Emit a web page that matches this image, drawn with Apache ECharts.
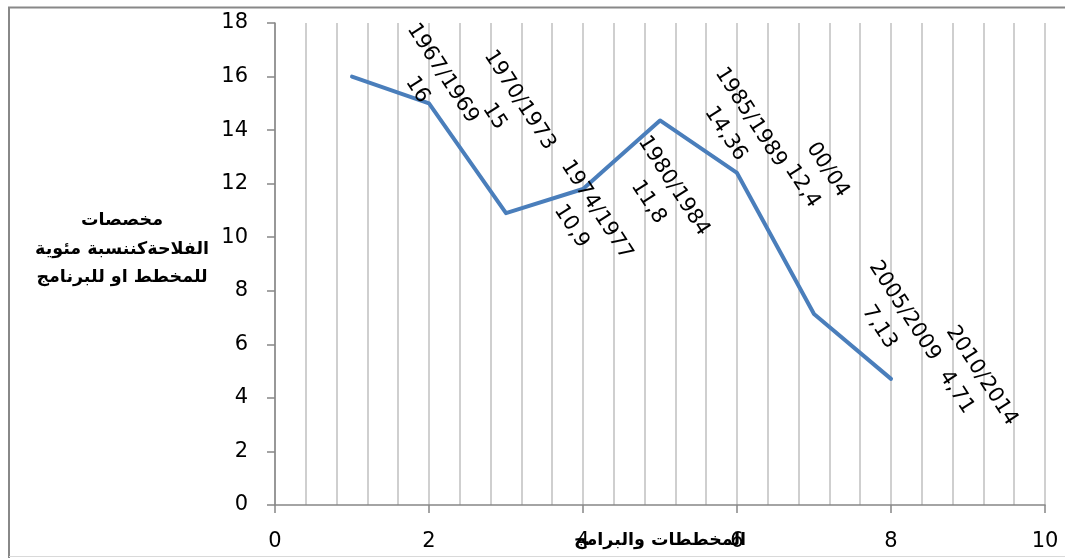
<!DOCTYPE html>
<html>
<head>
<meta charset="utf-8">
<script src="https://cdn.jsdelivr.net/npm/echarts@6/dist/echarts.min.js"></script>
<style>
html,body{margin:0;padding:0;background:#fff;}
#chart{width:1065px;height:558px;}
</style>
</head>
<body>
<div id="chart"></div>
<script>
// Data
const periods = ["1967/1969", "1970/1973", "1974/1977", "1980/1984", "1985/1989", "00/04", "2005/2009", "2010/2014"];
const xValues = [1, 2, 3, 4, 5, 6, 7, 8];
const shares = [16, 15, 10.9, 11.8, 14.36, 12.4, 7.13, 4.71];
const xTicks = [0, 2, 4, 6, 8, 10];
const yTicks = [0, 2, 4, 6, 8, 10, 12, 14, 16, 18];
const xAxisTitle = "المخططات والبرامج";
const yAxisTitle = "مخصصات\nالفلاحةكننسبة مئوية\nللمخطط او للبرنامج";

const seriesData = periods.map((p, i) => ({ name: p, value: [xValues[i], shares[i]] }));

const chart = echarts.init(document.getElementById('chart'), null, { renderer: 'canvas' });
const axisGray = '#868686';
const gridGray = '#c0c0c0';
const tickFont = 'DejaVu Sans';

// label rotation and desired screen-space shift of the label block from its point
const labelAngle = 57;
const shiftX = 78, shiftY = 5;
const rad = labelAngle * Math.PI / 180;
const localOffset = [shiftX * Math.cos(rad) + shiftY * Math.sin(rad), -shiftX * Math.sin(rad) + shiftY * Math.cos(rad)];

chart.setOption({
  animation: false,
  backgroundColor: '#fff',
  grid: { left: 275, right: 20, top: 23, bottom: 53, containLabel: false, outerBoundsMode: 'none' },
  xAxis: {
    type: 'value',
    min: xTicks[0], max: xTicks[xTicks.length - 1], interval: 2,
    axisLine: { show: true, onZero: false, lineStyle: { color: axisGray, width: 1.5 } },
    axisTick: { show: true, length: 8, inside: false, lineStyle: { color: axisGray, width: 1.5 } },
    axisLabel: { fontSize: 21, color: '#000', fontFamily: tickFont, margin: 26 },
    splitLine: { show: true, lineStyle: { color: gridGray, width: 1.5 } },
    minorTick: { show: false, splitNumber: 5 },
    minorSplitLine: { show: true, lineStyle: { color: gridGray, width: 1.5 } },
    name: xAxisTitle,
    nameLocation: 'middle',
    nameGap: 26,
    nameMoveOverlap: false,
    nameTextStyle: { fontSize: 17.5, fontWeight: 'bold', color: '#000', fontFamily: 'DejaVu Sans' }
  },
  yAxis: {
    type: 'value',
    min: yTicks[0], max: yTicks[yTicks.length - 1], interval: 2,
    axisLine: { show: true, onZero: false, lineStyle: { color: axisGray, width: 1.5 } },
    axisTick: { show: true, length: 8, inside: false, lineStyle: { color: axisGray, width: 1.5 } },
    axisLabel: { fontSize: 21, color: '#000', fontFamily: tickFont, margin: 27 },
    splitLine: { show: false }
  },
  graphic: [
    { type: 'line', shape: { x1: 8, y1: 7.5, x2: 1065, y2: 7.5 }, style: { stroke: '#888', lineWidth: 2 }, silent: true },
    { type: 'line', shape: { x1: 9, y1: 7, x2: 9, y2: 558 }, style: { stroke: '#888', lineWidth: 2 }, silent: true },
    { type: 'line', shape: { x1: 9, y1: 556.5, x2: 1065, y2: 556.5 }, style: { stroke: '#d9d9d9', lineWidth: 1 }, silent: true },
    {
      type: 'text', x: 122, y: 249,
      style: {
        text: yAxisTitle, x: 0, y: 0,
        font: 'bold 17.5px "DejaVu Sans"', fill: '#000',
        align: 'center', verticalAlign: 'middle', lineHeight: 28.5
      }
    }
  ],
  series: [{
    type: 'line',
    data: seriesData,
    symbol: 'circle',
    symbolSize: 1,
    showSymbol: true,
    itemStyle: { color: '#4a7ebb' },
    lineStyle: { color: '#4a7ebb', width: 4, cap: 'round', join: 'round' },
    label: {
      show: true,
      position: 'inside',
      rotate: -labelAngle,
      offset: localOffset,
      align: 'center',
      verticalAlign: 'middle',
      fontSize: 21,
      lineHeight: 30,
      fontFamily: tickFont,
      color: '#000',
      formatter: (p) => p.data.name + '\n' + String(p.data.value[1]).replace('.', ',')
    },
    emphasis: { disabled: true }
  }]
});
</script>
</body>
</html>
